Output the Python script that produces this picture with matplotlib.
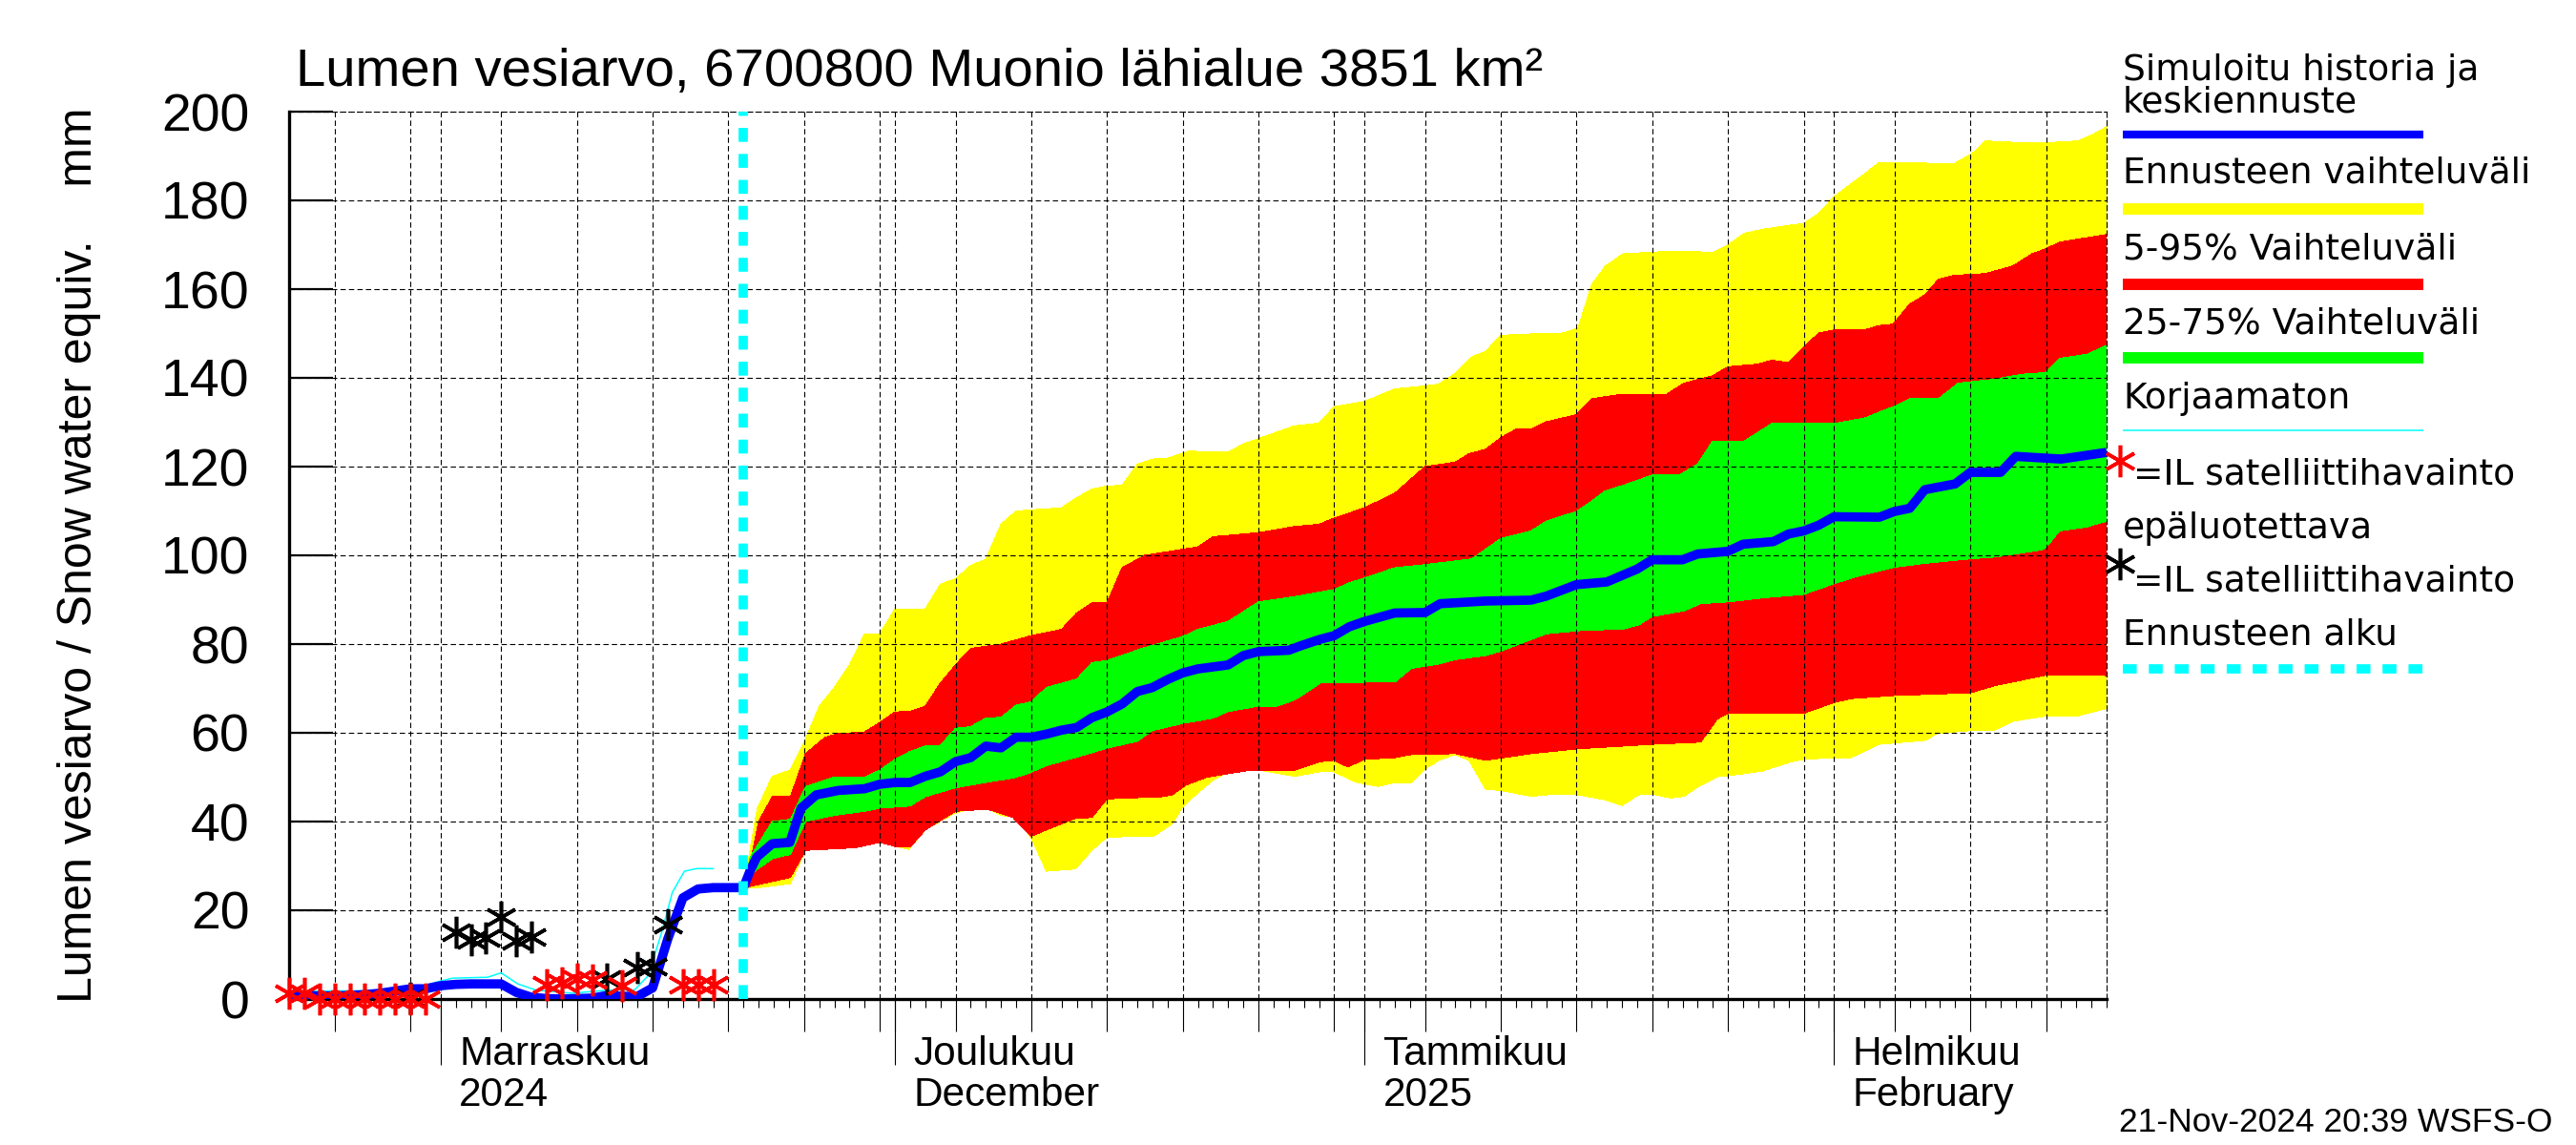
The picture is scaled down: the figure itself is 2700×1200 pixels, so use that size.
import datetime as dt
import numpy as np
import matplotlib
matplotlib.use("Agg")
import matplotlib.pyplot as plt
import matplotlib.dates as mdates
import matplotlib.transforms as mtrans
from matplotlib.lines import Line2D
from matplotlib.ticker import MultipleLocator, NullFormatter

# ------------------------------------------------------------------ data
X_START = dt.datetime(2024, 10, 22)
X_END = dt.datetime(2025, 2, 19)
FC_START = dt.datetime(2024, 11, 21)

# simulated history (days from 22 Oct 2024)
hist_day = list(range(31))
hist_val = [0.9, 0.8, 0.7, 0.7, 0.8, 1.0, 1.3, 1.8, 2.3, 2.3, 3.0, 3.3, 3.4, 3.4, 3.4,
            1.5, 0.4, 0.1, 0.0, 0.1, 0.2, 0.8, 0.6, 0.6, 2.5, 13.5, 22.8, 24.8, 25.1,
            25.1, 25.1]

# uncorrected simulation (days from 22 Oct 2024)
unc_day = [0, 2, 8, 9.7, 10.8, 13.1, 14, 15.1, 16.3, 18.7, 21, 22.8, 23.7, 24.6,
           25.3, 26.1, 26.9, 28]
unc_val = [1.5, 1.8, 1.9, 3.8, 4.7, 4.9, 5.9, 3.4, 2.0, 1.3, 2.0, 2.0, 5.2, 15.0,
           24.0, 28.8, 29.4, 29.4]

# satellite observations, unreliable (red) and reliable (black), days from 22 Oct
obs_bad_day = [0, 1, 2, 3, 4, 5, 6, 7, 8, 9, 17, 18, 19, 20, 22, 26, 27, 28]
obs_bad_val = [1.2, 1.3, 0.1, 0.1, 0.1, 0.1, 0.1, 0.1, 0.1, 0.1, 3.3, 3.6, 4.5, 4.4,
               3.0, 3.3, 3.3, 3.3]
obs_ok_day = [8, 11, 12, 13, 14, 15, 16, 21, 23, 24, 25]
obs_ok_val = [0.2, 15.0, 13.4, 13.8, 18.5, 13.2, 13.9, 4.6, 7.2, 7.4, 16.8]

# forecast (days from 21 Nov 2024)
yt_d = [0, 0.9, 1.9, 3.1, 4.1, 5, 6, 7, 8, 9, 10, 12, 13, 14, 15, 16, 17, 18, 21, 22,
        23, 24, 25, 26, 27, 28, 29.4, 31, 32, 33, 34, 36.4, 38, 39, 41, 43, 45, 45.9,
        47, 48.1, 49, 50, 52, 53.9, 55.1, 56, 56.9, 58.1, 60, 61.2, 64, 65, 66.1, 67.3,
        68.9, 70, 71, 72, 74.1, 75, 76.5, 78, 79.9, 81.1, 82, 83.8, 86, 88.1, 89, 90]
yt_v = [25, 42.8, 50.2, 51.6, 58.6, 66, 70.2, 75.3, 82.3, 82.3, 87.9, 87.9, 93.5, 94.7,
        97.7, 99.1, 107, 110, 110.7, 113, 114.9, 115.6, 115.8, 120.5, 121.7, 121.9,
        123.5, 123.3, 123.3, 125.1, 126.3, 129.2, 129.8, 133.5, 134.7, 137.5, 138.2,
        138.6, 141, 144.7, 146, 149.6, 149.9, 149.9, 151.2, 161, 165.2, 168, 168.3,
        168.6, 168.3, 170, 172.6, 173.5, 174.3, 174.8, 177.1, 180.8, 186.2, 188.6,
        188.6, 188.4, 188.2, 190.5, 193.4, 193.1, 193, 193.4, 194.7, 196.6]

rt_d = [0, 0.45, 1, 1.9, 3.1, 4.1, 5.4, 6.25, 8, 9, 10, 11, 12, 13, 14, 15, 17, 19, 21,
        22, 23, 24, 25, 26.5, 30, 31, 34, 36.4, 38, 39, 41, 43, 45, 47, 47.9, 49, 50,
        51, 52, 53, 55, 56, 57.8, 60.9, 62.1, 64, 65, 67, 67.9, 69, 70.1, 71, 72, 74.1,
        75, 75.9, 77, 78, 78.9, 79.9, 82, 83.8, 85.1, 86, 86.9, 90]
rt_v = [25, 30.7, 40, 45.6, 45.6, 55.3, 59, 59.8, 60.2, 62.3, 64.7, 64.8, 66, 71.2, 75.3,
        79, 80, 81.9, 83.3, 87, 89.3, 89.3, 97.2, 100, 101.9, 104.2, 105.1, 106.5, 107,
        108.4, 110.7, 114, 120, 121, 122.9, 123.9, 126.5, 128.4, 128.4, 130.1, 131.7,
        135.3, 136.2, 136.2, 138.8, 140.5, 142.5, 143.1, 144, 143.4, 147.3, 150.1,
        150.8, 150.9, 151.8, 152.1, 156.6, 158.7, 162.2, 163.1, 163.5, 165.2, 168,
        169.1, 170.6, 172.3]

gt_d = [0, 0.45, 1.9, 3.1, 4.1, 6, 8, 9, 10, 11, 12, 13, 14, 15, 16, 17, 18, 19, 20, 22,
        23, 24, 26.3, 29, 30, 31, 32, 34, 36.4, 39, 40, 41, 43, 45, 48.1, 50, 52, 53, 55,
        56, 56.9, 58.1, 60, 61.8, 63, 64, 66.1, 67.3, 67.9, 72, 74.1, 75, 76, 77, 78.9,
        80.2, 82.6, 84.4, 86, 86.9, 88.7, 90]
gt_v = [25, 32, 40, 40.5, 47.9, 50, 50, 51.6, 54, 55.8, 57, 57.2, 61, 61.4, 63.3, 63.5,
        66.2, 67, 70.2, 72.1, 75.8, 76.3, 79, 81.7, 83.3, 84.2, 85.1, 89.5, 90.7, 92.3,
        93.8, 94.9, 97.2, 97.9, 99.2, 103.8, 105.5, 107.7, 109.9, 112.2, 114.5, 115.8,
        118.1, 118.1, 120.6, 125.8, 125.8, 128.4, 129.7, 129.7, 131, 132.3, 133.6,
        135.3, 135.3, 138.8, 139.7, 140.8, 141.2, 144.4, 145.3, 147.3]

gb_d = [0, 0.74, 1.9, 3.1, 4.1, 6, 8, 9, 11, 12, 14, 16, 17.8, 18.7, 20, 21.9, 24, 26,
        27, 29, 31, 32, 34, 35.2, 36.4, 38.1, 39, 41, 43, 44.1, 45.9, 47, 49, 50, 52,
        53, 55.1, 58.1, 59.1, 60, 62.1, 63.2, 65, 67.3, 70, 72, 73.4, 76, 78, 81, 82.6,
        85.7, 86, 86.9, 88.7, 90]
gb_v = [25, 28.8, 31.6, 32.6, 40, 41.4, 42.3, 43, 43.5, 45.6, 47.6, 48.8, 49.8, 50.7,
        52.6, 54.4, 56.5, 58.1, 60.5, 62.1, 63.3, 64.8, 66, 66, 67.4, 71.2, 71.2, 71.4,
        71.4, 74.5, 75.5, 76.5, 77.4, 78.4, 81, 82.3, 83, 83.4, 84.3, 86.2, 87.5, 89.1,
        89.5, 90.4, 91.2, 93.6, 95.1, 97.3, 98.2, 99.2, 99.6, 101.2, 101.8, 105.5,
        106.4, 107.7]

rb_d = [0, 0.74, 3.1, 4.1, 7.4, 9, 10, 11, 12, 14, 16.1, 17.8, 19, 20, 21.9, 23, 24,
        27.7, 28.3, 29.2, 30.6, 33.5, 36.4, 38.1, 39, 39.9, 41, 43, 44.1, 47, 49, 52,
        55.1, 58.1, 60, 63.2, 64.3, 65, 70, 72, 73.1, 76, 81, 82.6, 86, 90]
rb_v = [25, 25.6, 27.4, 33.5, 34.1, 35.3, 34.4, 34.2, 38.1, 42.3, 42.8, 40.9, 36.7, 38.1,
        40.7, 40.9, 45.1, 45.6, 46, 48.2, 50, 51.6, 51.6, 53.5, 53.8, 52.3, 54, 54.4,
        55.1, 55.3, 53.8, 55.3, 56.4, 57, 57.4, 57.9, 63.1, 64.4, 64.4, 66.8, 67.7,
        68.4, 69, 70.6, 73, 72.9]

yb_d = [0, 0.74, 3.1, 4.1, 7.4, 9, 10.9, 12, 13.2, 14, 15, 16.1, 17, 18, 19, 20, 21.9,
        23, 24, 27.1, 28.3, 29, 30, 31, 32, 34, 36.4, 38, 39, 40.5, 41.9, 43, 44.1, 45,
        45.9, 47, 47.9, 49, 50, 52, 53.6, 55.1, 56.9, 58, 59.1, 60, 61.2, 62.1, 63.2,
        64.3, 65, 67.3, 69.2, 70, 72, 73.1, 75, 76, 78, 78.9, 81, 82.6, 83.8, 86, 88.1,
        90]
yb_v = [25, 25, 26, 33.5, 34.1, 35.3, 33.7, 38.1, 40.5, 41.9, 42.8, 43, 41.4, 40.9, 36.3,
        28.8, 29.3, 33.5, 36.5, 36.7, 39.5, 43.3, 46.5, 49.3, 51.2, 51.6, 50.2, 51.2,
        51.2, 48.8, 47.9, 48.8, 48.8, 51.8, 53.8, 55.1, 53.8, 47.3, 47, 45.7, 46.2, 46,
        44.9, 43.6, 46, 46.2, 45.3, 45.7, 48.2, 50.1, 50.3, 51.4, 53.5, 54, 54.4, 54.4,
        57.4, 57.7, 58.3, 59.9, 60.5, 60.6, 62.6, 63.8, 63.8, 65.5]

bl_d = [0, 0.45, 0.88, 1.9, 3.06, 3.8, 4.8, 6.25, 8, 9, 10, 11, 12, 13, 14, 15, 16, 17,
        18, 19, 20, 21, 22, 23, 24, 25, 26, 27, 28, 29, 30, 32, 33, 34, 36, 36.7, 38, 39,
        40, 41, 43, 45, 46, 49, 52, 53, 55, 57, 59, 60, 62, 63, 65, 66, 68, 69, 70, 71,
        72, 75, 76, 77, 78, 80, 81, 83, 84, 87, 90]
bl_v = [25.1, 29, 32, 35, 35.3, 43, 46, 47, 47.4, 48.4, 48.8, 48.8, 50.2, 51.2, 53.5,
        54.4, 57, 56.6, 59, 59, 59.7, 60.6, 61.2, 63.4, 64.7, 66.5, 69.3, 70.2, 72, 73.5,
        74.4, 75.3, 77.4, 78.3, 78.6, 79.5, 81, 81.9, 83.9, 85.1, 87, 87.1, 89.1, 89.7,
        89.9, 90.8, 93.4, 94.0, 96.9, 99.0, 99.0, 100.3, 100.9, 102.5, 103.1, 104.8,
        105.5, 106.8, 108.7, 108.6, 109.9, 110.6, 114.8, 116.1, 118.7, 118.7, 122.3,
        121.7, 123.2]

month_dates = [dt.datetime(2024, 11, 1), dt.datetime(2024, 12, 1),
               dt.datetime(2025, 1, 1), dt.datetime(2025, 2, 1)]
month_labels = ["Marraskuu\n2024", "Joulukuu\nDecember", "Tammikuu\n2025",
                "Helmikuu\nFebruary"]

title = "Lumen vesiarvo, 6700800 Muonio lähialue 3851 km²"
ylabel = "Lumen vesiarvo / Snow water equiv.    mm"
stamp = "21-Nov-2024 20:39 WSFS-O"
leg_texts = ["Simuloitu historia ja", "keskiennuste", "Ennusteen vaihteluväli",
             "5-95% Vaihteluväli", "25-75% Vaihteluväli", "Korjaamaton",
             "=IL satelliittihavainto", "epäluotettava", "=IL satelliittihavainto",
             "Ennusteen alku"]

# ------------------------------------------------------------------ fonts
MAIN = "Liberation Sans"
LEG = "DejaVu Sans"

YELLOW, RED, GREEN, BLUE, CYAN = "#ffff00", "#ff0000", "#00ff00", "#0000ff", "#00ffff"

# ------------------------------------------------------------------ figure
W, H = 2700, 1200
fig = plt.figure(figsize=(W / 100, H / 100), dpi=100)


def fx(x):
    return x / W


def fy(y):
    return 1 - y / H


ax = fig.add_axes([fx(303), fy(1047), (2208 - 303) / W, (1047 - 117) / H])
ax.xaxis_date()


def tnum(base, days):
    return mdates.date2num(base) + np.asarray(days, float)


def band(dt_, vt, db, vb, color):
    xs = np.concatenate([tnum(FC_START, dt_), tnum(FC_START, db)[::-1]])
    ys = np.concatenate([np.asarray(vt, float), np.asarray(vb, float)[::-1]])
    ax.fill(xs, ys, color=color, lw=0, zorder=1, antialiased=False)


band(yt_d, yt_v, yb_d, yb_v, YELLOW)
band(rt_d, rt_v, rb_d, rb_v, RED)
band(gt_d, gt_v, gb_d, gb_v, GREEN)

ax.plot(tnum(X_START, unc_day), unc_val, color=CYAN, lw=1.1, zorder=2.6)
ax.plot(tnum(X_START, hist_day), hist_val, color=BLUE, lw=7, zorder=3,
        solid_joinstyle="round", solid_capstyle="butt")
ax.plot(tnum(FC_START, bl_d), bl_v, color=BLUE, lw=7, zorder=3,
        solid_joinstyle="round", solid_capstyle="butt")

ax.axvline(mdates.date2num(FC_START), color=CYAN, lw=7, dashes=(1.5, 1.3), zorder=4)

AST = (6, 2, 0)
MS, MEW = 24, 2.6
ax.plot(tnum(X_START, obs_ok_day), obs_ok_val, ls="none", marker=AST, ms=MS, mew=MEW,
        color="black", zorder=5, clip_on=False)
ax.plot(tnum(X_START, obs_bad_day), obs_bad_val, ls="none", marker=AST, ms=MS, mew=MEW,
        color=RED, zorder=6, clip_on=False)

ax.set_xlim(mdates.date2num(X_START), mdates.date2num(X_END))
ax.set_ylim(0, 200)

# x ticks: 5-day major (with grid), daily minor
ax.xaxis.set_major_locator(mdates.DayLocator(bymonthday=[1, 5, 10, 15, 20, 25, 30]))
ax.xaxis.set_minor_locator(mdates.DayLocator())
ax.xaxis.set_major_formatter(NullFormatter())
ax.xaxis.set_minor_formatter(NullFormatter())
ax.tick_params(axis="x", which="major", direction="out", length=24.5, width=0.8,
               top=False)
ax.tick_params(axis="x", which="minor", direction="out", length=6.5, width=0.8,
               top=False)

ax.yaxis.set_major_locator(MultipleLocator(20))
ax.tick_params(axis="y", which="major", direction="in", length=33, width=1.6,
               right=False, pad=30, labelsize=40, labelfontfamily=MAIN)

ax.set_axisbelow(False)
ax.grid(True, which="major", color="black", linestyle=(0, (5, 3)), linewidth=0.8)

for s in ("left", "bottom"):
    ax.spines[s].set_linewidth(2.4)
for s in ("top", "right"):
    ax.spines[s].set_linewidth(0.8)
    ax.spines[s].set_linestyle((0, (5, 3)))

# long month ticks
tw = ax.twiny()
tw.xaxis_date()
tw.set_xlim(ax.get_xlim())
tw.xaxis.set_ticks_position("bottom")
tw.xaxis.set_major_locator(mdates.MonthLocator())
tw.xaxis.set_major_formatter(NullFormatter())
tw.xaxis.set_minor_locator(mdates.MonthLocator())
tw.tick_params(axis="x", which="both", direction="out", length=50, width=0.8,
               top=False, bottom=True)
for s in tw.spines.values():
    s.set_visible(False)

trans = mtrans.blended_transform_factory(ax.transData, ax.transAxes)
off = mtrans.offset_copy(trans, fig=fig, x=14, y=-27, units="points")
for d, lab in zip(month_dates, month_labels):
    ax.text(mdates.date2num(d), 0, lab, transform=off, ha="left", va="top",
            fontsize=30.5, linespacing=1.1, fontfamily=MAIN)

# title, y label, stamp
fig.text(fx(310), fy(90), title, fontsize=40.5, ha="left", va="baseline",
         fontfamily=MAIN)
fig.text(fx(83), fy(582), ylabel, fontsize=36, rotation=90, ha="center",
         va="center", fontfamily=MAIN)
fig.text(fx(2221), fy(1176), stamp, fontsize=25.5, ha="left", va="center",
         fontfamily=MAIN)

# legend
LX0, LX1 = 2225, 2540
LFS = 27


def ltext(x, y, s):
    fig.text(fx(x), fy(y), s, fontsize=LFS, fontfamily=LEG, ha="left", va="center")


def lline(y, color, lw, **kw):
    fig.add_artist(Line2D([fx(LX0), fx(LX1)], [fy(y), fy(y)], color=color, lw=lw,
                          solid_capstyle="butt", **kw))


ltext(LX0, 74, leg_texts[0])
ltext(LX0, 107, leg_texts[1])
lline(141, BLUE, 6)
ltext(LX0, 181, leg_texts[2])
lline(219, YELLOW, 8.6)
ltext(LX0, 262, leg_texts[3])
lline(298, RED, 8.6)
ltext(LX0, 339, leg_texts[4])
lline(375, GREEN, 8.6)
ltext(LX0, 418, leg_texts[5])
lline(451, CYAN, 1.1)
fig.add_artist(Line2D([fx(2222)], [fy(483)], ls="none", marker=AST, ms=MS, mew=MEW,
                      color=RED))
ltext(2236, 498, leg_texts[6])
ltext(LX0, 554, leg_texts[7])
fig.add_artist(Line2D([fx(2222)], [fy(591)], ls="none", marker=AST, ms=MS, mew=MEW,
                      color="black"))
ltext(2236, 610, leg_texts[8])
ltext(LX0, 665, leg_texts[9])
lline(701, CYAN, 7, dashes=(1.5, 1.3))

fig.savefig("out.png", dpi=100)
